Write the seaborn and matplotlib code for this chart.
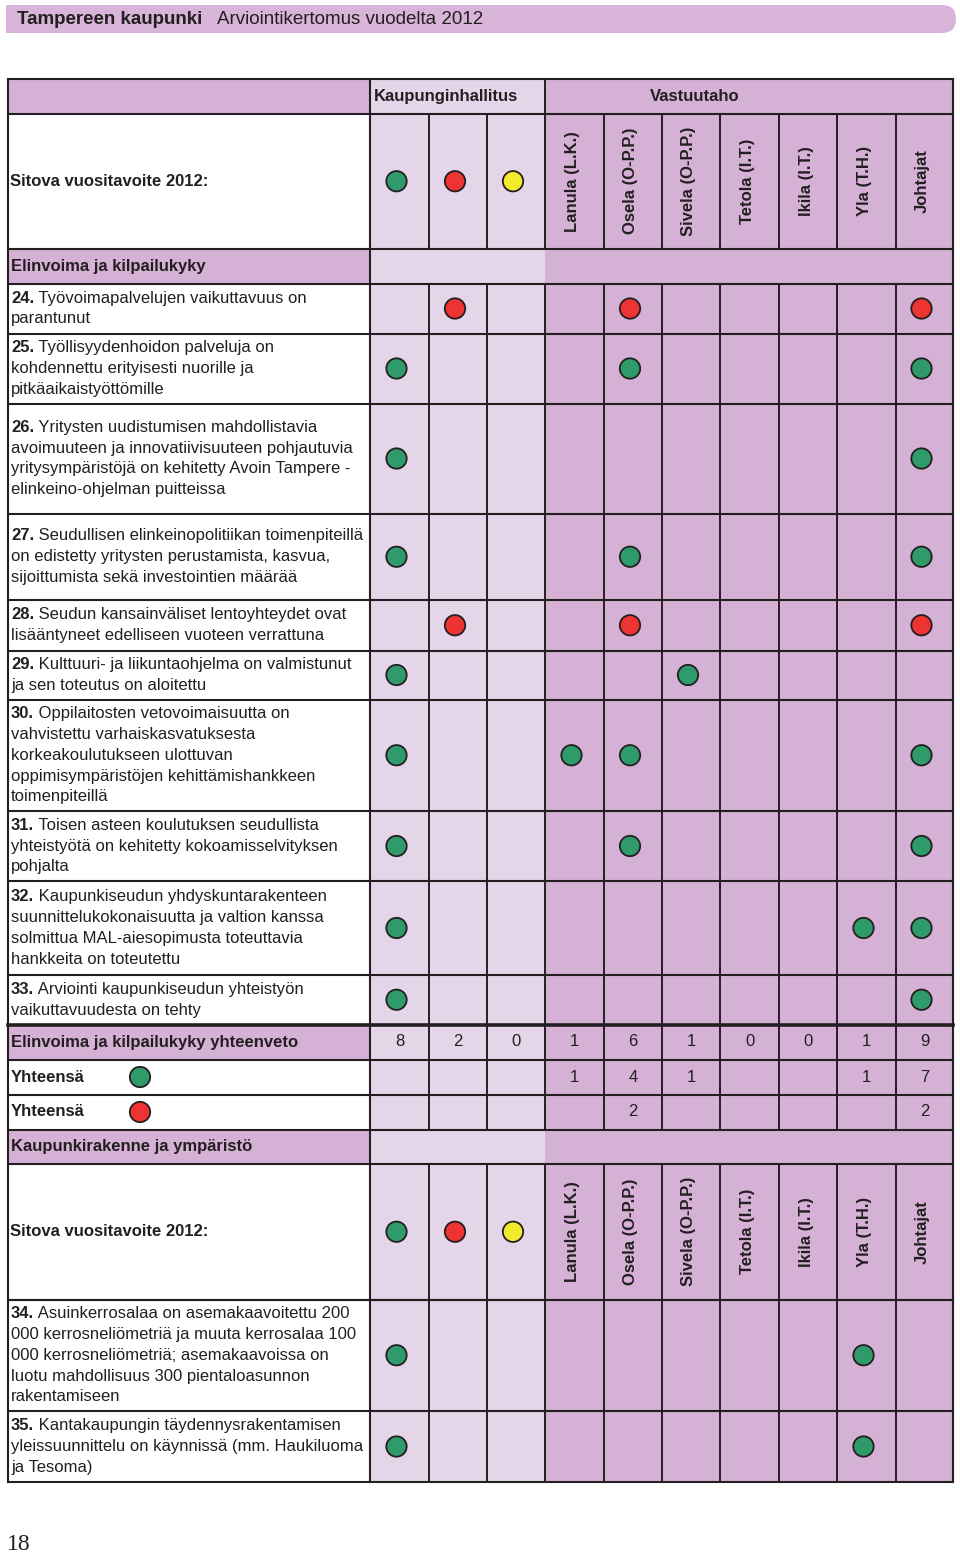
import numpy as np
import pandas as pd
import matplotlib
matplotlib.use("Agg")
import matplotlib.pyplot as plt
from matplotlib.patches import Rectangle, FancyBboxPatch
from matplotlib import font_manager
import seaborn as sns

# ---------------- data ----------------
page_title_bold = "Tampereen kaupunki"
page_title = "Arviointikertomus vuodelta 2012"
page_number = "18"
group_headers = ["Kaupunginhallitus", "Vastuutaho"]
target_label = "Sitova vuositavoite 2012:"
responsible = ["Lanula (L.K.)", "Osela (O-P.P.)", "Sivela (O-P.P.)", "Tetola (I.T.)",
               "Ikila (I.T.)", "Yla (T.H.)", "Johtajat"]
kh_legend_status = ["green", "red", "yellow"]
sections = ["Elinvoima ja kilpailukyky", "Kaupunkirakenne ja ympäristö"]

goal_numbers = ["24", "25", "26", "27", "28", "29", "30", "31", "32", "33", "34", "35"]
goal_lines = [
    ["Työvoimapalvelujen vaikuttavuus on", "parantunut"],
    ["Työllisyydenhoidon palveluja on", "kohdennettu erityisesti nuorille ja", "pitkäaikaistyöttömille"],
    ["Yritysten uudistumisen mahdollistavia", "avoimuuteen ja innovatiivisuuteen pohjautuvia",
     "yritysympäristöjä on kehitetty Avoin Tampere -", "elinkeino-ohjelman puitteissa"],
    ["Seudullisen elinkeinopolitiikan toimenpiteillä", "on edistetty yritysten perustamista, kasvua,",
     "sijoittumista sekä investointien määrää"],
    ["Seudun kansainväliset lentoyhteydet ovat", "lisääntyneet edelliseen vuoteen verrattuna"],
    ["Kulttuuri- ja liikuntaohjelma on valmistunut", "ja sen toteutus on aloitettu"],
    ["Oppilaitosten vetovoimaisuutta on", "vahvistettu varhaiskasvatuksesta", "korkeakoulutukseen ulottuvan",
     "oppimisympäristöjen kehittämishankkeen", "toimenpiteillä"],
    ["Toisen asteen koulutuksen seudullista", "yhteistyötä on kehitetty kokoamisselvityksen", "pohjalta"],
    ["Kaupunkiseudun yhdyskuntarakenteen", "suunnittelukokonaisuutta ja valtion kanssa",
     "solmittua MAL-aiesopimusta toteuttavia", "hankkeita on toteutettu"],
    ["Arviointi kaupunkiseudun yhteistyön", "vaikuttavuudesta on tehty"],
    ["Asuinkerrosalaa on asemakaavoitettu 200", "000 kerrosneliömetriä ja muuta kerrosalaa 100",
     "000 kerrosneliömetriä; asemakaavoissa on", "luotu mahdollisuus 300 pientaloasunnon", "rakentamiseen"],
    ["Kantakaupungin täydennysrakentamisen", "yleissuunnittelu on käynnissä (mm. Haukiluoma", "ja Tesoma)"],
]

# assessment dots: goal, column (0-2 Kaupunginhallitus, 3-9 responsible), status
dot_goal = ["24", "24", "24",
            "25", "25", "25",
            "26", "26",
            "27", "27", "27",
            "28", "28", "28",
            "29", "29",
            "30", "30", "30", "30",
            "31", "31", "31",
            "32", "32", "32",
            "33", "33",
            "34", "34",
            "35", "35"]
dot_column = [1, 4, 9,
              0, 4, 9,
              0, 9,
              0, 4, 9,
              1, 4, 9,
              0, 5,
              0, 3, 4, 9,
              0, 4, 9,
              0, 8, 9,
              0, 9,
              0, 8,
              0, 8]
dot_status = ["red", "red", "red",
              "green", "green", "green",
              "green", "green",
              "green", "green", "green",
              "red", "red", "red",
              "green", "green",
              "green", "green", "green", "green",
              "green", "green", "green",
              "green", "green", "green",
              "green", "green",
              "green", "green",
              "green", "green"]

summary_label = "Elinvoima ja kilpailukyky yhteenveto"
summary_values = [8, 2, 0, 1, 6, 1, 0, 0, 1, 9]
total_label = "Yhteensä"
green_totals = [None, None, None, 1, 4, 1, None, None, 1, 7]
red_totals = [None, None, None, None, 2, None, None, None, None, 2]

# ---------------- style / layout ----------------
sns.set_theme(style="white")
plt.rcParams["font.family"] = ["Liberation Sans", "DejaVu Sans"]

INK = "#231f20"
LIGHT = "#e4d5e9"
DARK = "#d5b2d5"
WHITE = "#ffffff"
STATUS_COLORS = {"green": "#2f9b6b", "red": "#ee3333", "yellow": "#f2ea2a"}
FS = 12

X_LEFT, X_TEXT, X_RIGHT = 8, 370, 953
col_edges = [370, 429, 487, 545, 604, 662, 720, 779, 837, 896, 953]
col_centers = [(a + b) / 2 for a, b in zip(col_edges[:-1], col_edges[1:])]
DOT_DX = -3

goal_edges_a = [283.5, 333.5, 403.5, 513.5, 600, 650.5, 699.5, 811, 881, 975, 1024.5]
goal_edges_b = [1299.5, 1411, 1482]
goal_rows = {}
for i, g in enumerate(goal_numbers[:10]):
    goal_rows[g] = (goal_edges_a[i], goal_edges_a[i + 1])
for i, g in enumerate(goal_numbers[10:]):
    goal_rows[g] = (goal_edges_b[i], goal_edges_b[i + 1])

HEAD1 = (79, 113.5)
HEAD2A = (113.5, 249)
SEC_A = (249, 283.5)
SUMMARY = (1024.5, 1059.5)
TOT_G = (1059.5, 1094.5)
TOT_R = (1094.5, 1129.5)
SEC_B = (1129.5, 1164)
HEAD2B = (1164, 1299.5)

fig = plt.figure(figsize=(9.6, 15.52), dpi=100)
ax = fig.add_axes([0, 0, 1, 1])
ax.set_xlim(0, 960)
ax.set_ylim(1552, 0)
ax.axis("off")


def fill(x0, x1, y0, y1, color):
    ax.add_patch(Rectangle((x0, y0), x1 - x0, y1 - y0, facecolor=color, edgecolor="none", zorder=1))


def cells(y0, y1, text_bg, merged=False):
    fill(X_LEFT, X_TEXT, y0, y1, text_bg)
    fill(col_edges[0], col_edges[3], y0, y1, LIGHT)
    fill(col_edges[3], col_edges[-1], y0, y1, DARK)
    if not merged:
        for x in col_edges[1:-1]:
            ax.plot([x, x], [y0, y1], color=INK, lw=1.4, zorder=3, solid_capstyle="butt")


def mid(r):
    return (r[0] + r[1]) / 2


# title bar
bar = FancyBboxPatch((6, 5), 950, 28, boxstyle="round,pad=0,rounding_size=14",
                     facecolor="#d8b5d8", edgecolor="none", zorder=1)
ax.add_patch(bar)
fill(6, 60, 5, 33, "#d8b5d8")
names = {f.name for f in font_manager.fontManager.ttflist}
if "Liberation Sans Narrow" in names:
    tfam, tsize = ["Liberation Sans Narrow", "Liberation Sans"], 16
else:
    tfam, tsize = ["Liberation Sans", "DejaVu Sans"], 13.5
tb = ax.text(17, 19, page_title_bold, family=tfam, fontsize=tsize, fontweight="bold",
             color=INK, va="center", ha="left", zorder=4)
ax.text(217, 19, page_title, family=tfam, fontsize=tsize, color=INK, va="center", ha="left", zorder=4)

# header row 1
fill(X_LEFT, X_TEXT, *HEAD1, DARK)
fill(col_edges[0], col_edges[3], *HEAD1, LIGHT)
fill(col_edges[3], col_edges[-1], *HEAD1, DARK)
ax.plot([col_edges[3]] * 2, HEAD1, color=INK, lw=1.4, zorder=3)
ax.text(374, mid(HEAD1), group_headers[0], fontsize=FS, fontweight="bold", color=INK,
        va="center", ha="left", zorder=4)
ax.text(695, mid(HEAD1), group_headers[1], fontsize=FS, fontweight="bold", color=INK,
        va="center", ha="center", zorder=4)

# header row 2 (twice)
for hr in (HEAD2A, HEAD2B):
    cells(*hr, WHITE)
    ax.text(10, mid(hr), target_label, fontsize=FS, fontweight="bold", color=INK,
            va="center", ha="left", zorder=4)
    for j, name in enumerate(responsible):
        ax.text(col_centers[3 + j] - 2, mid(hr), name, fontsize=FS, fontweight="bold", color=INK,
                rotation=90, va="center", ha="center", zorder=4)

# section rows
for sr, label in ((SEC_A, sections[0]), (SEC_B, sections[1])):
    cells(*sr, DARK, merged=True)
    ax.text(11, mid(sr), label, fontsize=FS, fontweight="bold", color=INK,
            va="center", ha="left", zorder=4)

# goal rows
LINE_H = 20.8
for g, lines in zip(goal_numbers, goal_lines):
    r = goal_rows[g]
    cells(*r, WHITE)
    n = len(lines)
    for k, line in enumerate(lines):
        y = mid(r) + (k - (n - 1) / 2) * LINE_H
        if k == 0:
            t = ax.text(11, y, g + ".", fontsize=FS, fontweight="bold", color=INK,
                        va="center", ha="left", zorder=4)
            ax.annotate(" " + line, xy=(1, 0), xycoords=t, fontsize=FS, color=INK,
                        va="bottom", ha="left", zorder=4)
        else:
            ax.text(11, y, line, fontsize=FS, color=INK, va="center", ha="left", zorder=4)

# summary row
cells(*SUMMARY, DARK)
ax.text(11, mid(SUMMARY), summary_label, fontsize=FS, fontweight="bold", color=INK,
        va="center", ha="left", zorder=4)
for j, v in enumerate(summary_values):
    ax.text(col_centers[j], mid(SUMMARY), str(v), fontsize=FS, color=INK,
            va="center", ha="center", zorder=4)

# totals rows
for tr, vals in ((TOT_G, green_totals), (TOT_R, red_totals)):
    cells(*tr, WHITE)
    ax.text(11, mid(tr), total_label, fontsize=FS, fontweight="bold", color=INK,
            va="center", ha="left", zorder=4)
    for j, v in enumerate(vals):
        if v is not None:
            ax.text(col_centers[j], mid(tr), str(v), fontsize=FS, color=INK,
                    va="center", ha="center", zorder=4)

# grid lines
h_edges = [HEAD1[0], HEAD1[1], HEAD2A[1]] + goal_edges_a + [SUMMARY[1], TOT_G[1], TOT_R[1],
                                                            SEC_B[1], HEAD2B[1]] + goal_edges_b
for y in h_edges:
    lw = 2.6 if y == 1024.5 else 1.5
    ax.plot([X_LEFT, X_RIGHT], [y, y], color=INK, lw=lw, zorder=3, solid_capstyle="projecting")
for x in (X_LEFT, X_TEXT, X_RIGHT):
    ax.plot([x, x], [HEAD1[0], goal_edges_b[-1]], color=INK, lw=1.5, zorder=3)

# dots through seaborn
dot_rows = []
for g, c, s in zip(dot_goal, dot_column, dot_status):
    dot_rows.append({"x": col_centers[c] + DOT_DX, "y": mid(goal_rows[g]), "status": s})
for hr in (HEAD2A, HEAD2B):
    for j, s in enumerate(kh_legend_status):
        dot_rows.append({"x": col_centers[j] + DOT_DX, "y": mid(hr), "status": s})
dot_rows.append({"x": 140, "y": mid(TOT_G), "status": "green"})
dot_rows.append({"x": 140, "y": mid(TOT_R), "status": "red"})
dots = pd.DataFrame(dot_rows)
sns.scatterplot(data=dots, x="x", y="y", hue="status", palette=STATUS_COLORS, s=215,
                edgecolor=INK, linewidth=1.3, legend=False, ax=ax, zorder=5)
for coll in ax.collections:
    coll.set_zorder(5)

ax.text(7, 1550, page_number, family=["Liberation Serif", "DejaVu Serif"], fontsize=17,
        color=INK, va="baseline", ha="left")

ax.set_xlim(0, 960)
ax.set_ylim(1552, 0)
ax.axis("off")
fig.savefig("out.png", dpi=100)
